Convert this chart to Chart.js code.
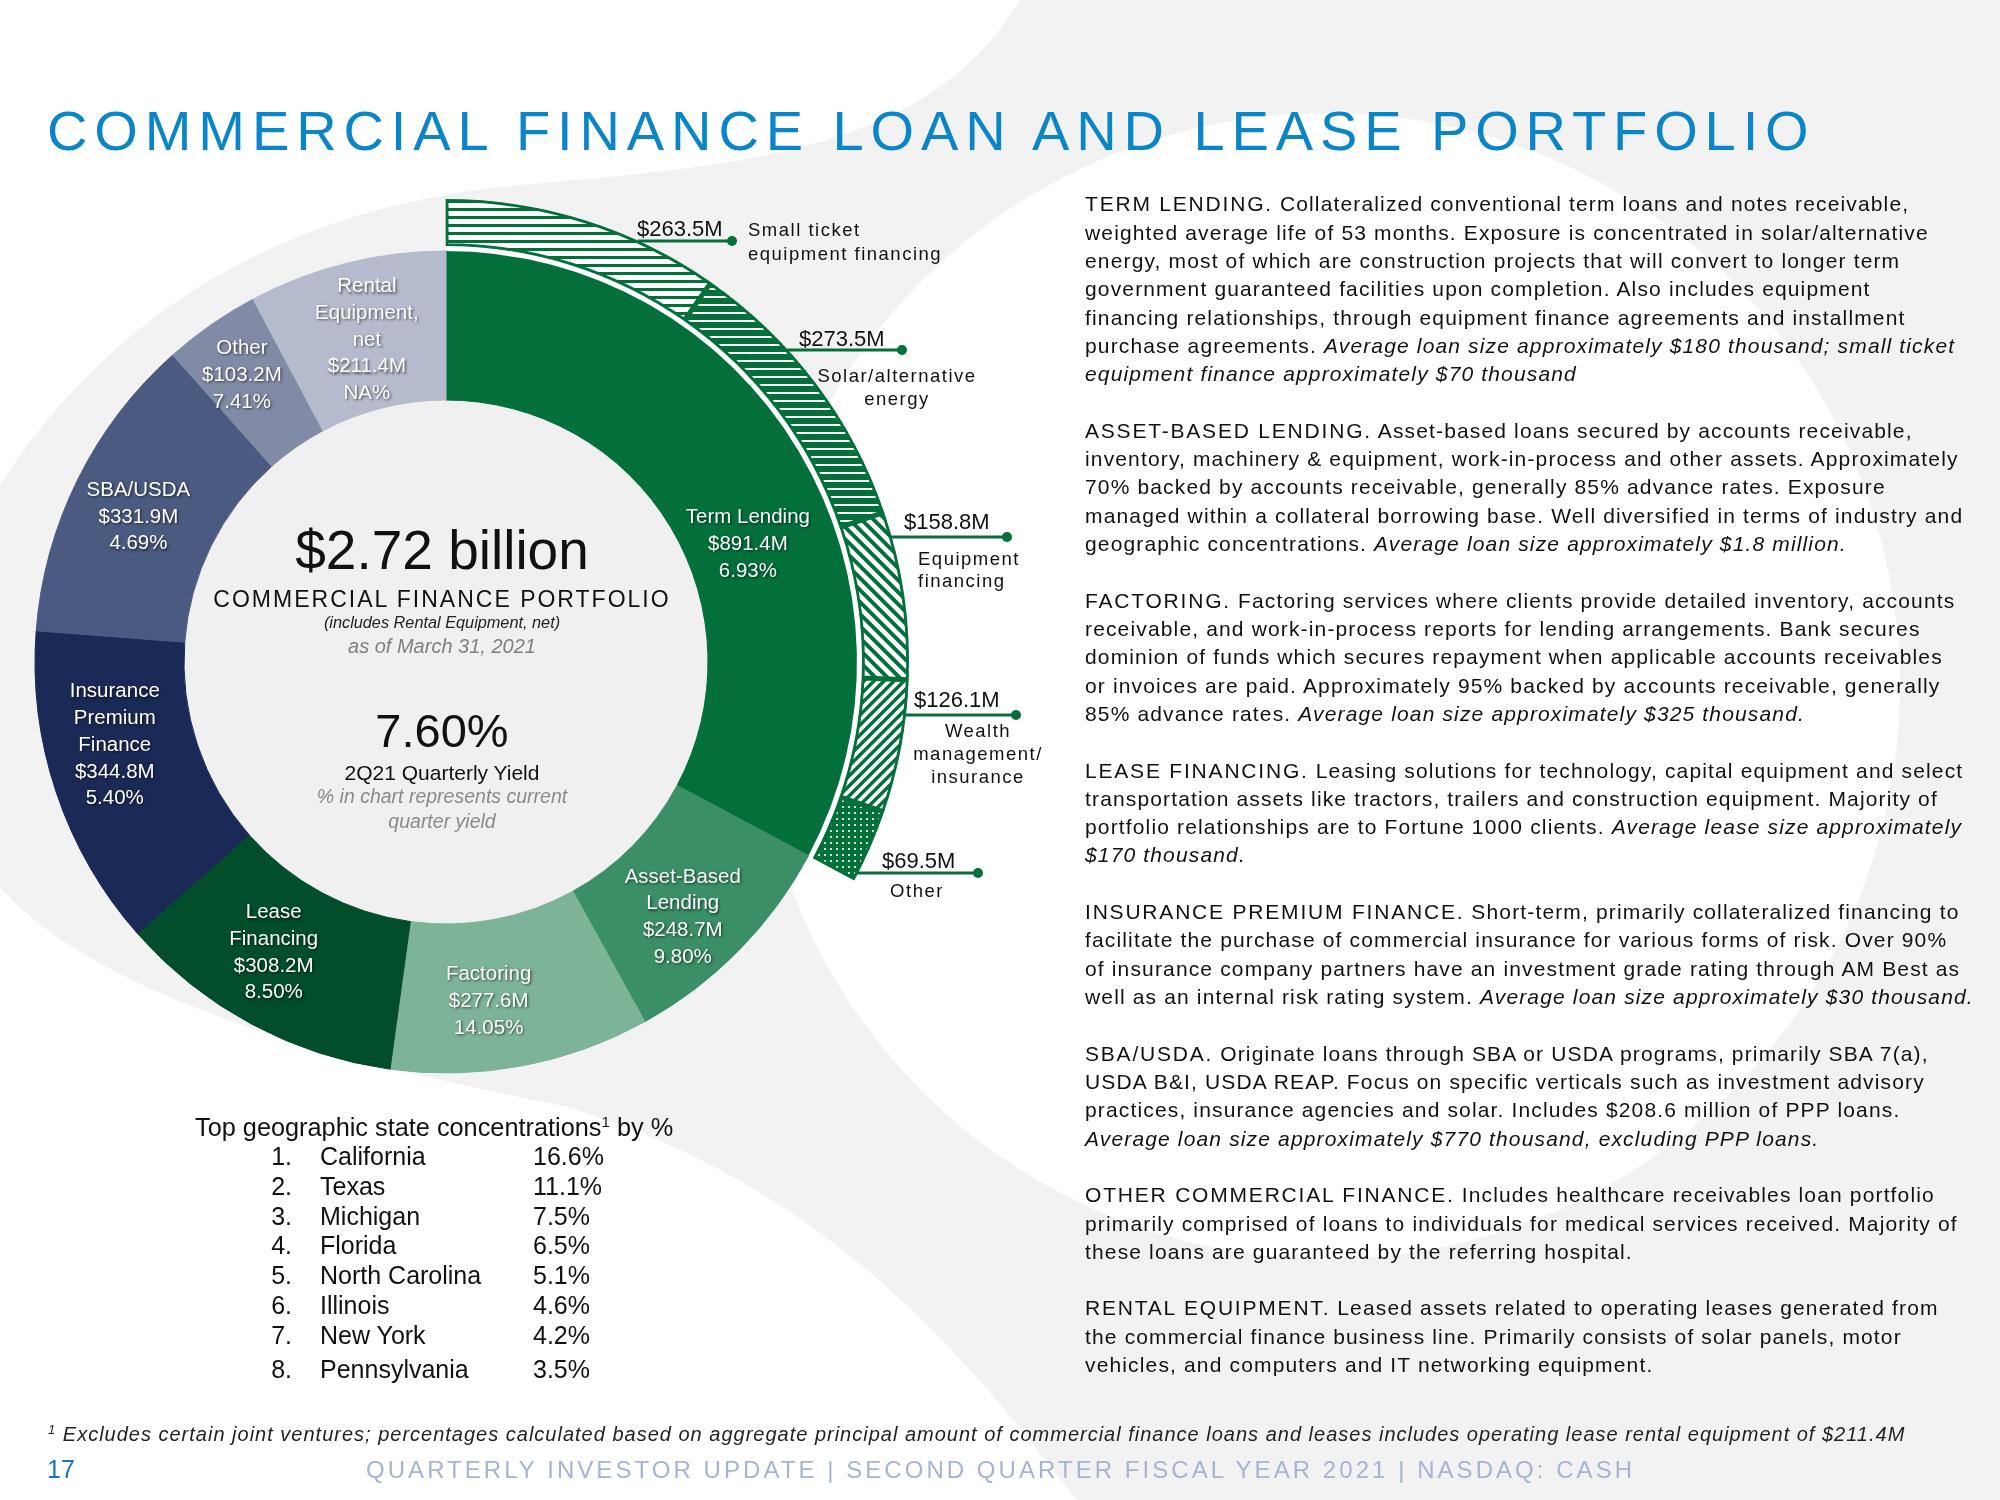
<!DOCTYPE html>
<html><head><meta charset="utf-8">
<script src="https://cdn.jsdelivr.net/npm/chart.js@4.4.0/dist/chart.umd.min.js"></script>
<style>
html,body{margin:0;padding:0;width:2000px;height:1500px;overflow:hidden;background:#fff;font-family:"Liberation Sans",Arial,sans-serif;}
#wrap{position:relative;width:2000px;height:1500px;}
#c{position:absolute;left:0;top:0;}
.t{position:absolute;white-space:nowrap;line-height:1;color:#111;}
.ctr{left:142px;width:600px;text-align:center;}
#right{position:absolute;left:1085px;top:190.3px;font-size:21px;line-height:28.32px;letter-spacing:1.15px;color:#111;white-space:nowrap;}
#right p{margin:0 0 28.32px 0;}
#right b{font-weight:normal;letter-spacing:1.8px;}
#right i{font-style:italic;}
</style></head><body>
<div id="wrap">
<canvas id="c" width="2000" height="1500"></canvas>

<div class="t" style="left:47px;top:102.6px;font-size:56px;letter-spacing:6.9px;word-spacing:0px;color:#0a86c8;">COMMERCIAL FINANCE LOAN AND LEASE PORTFOLIO</div>

<div class="t ctr" id="bigTotal" style="top:523.4px;font-size:55px;"></div>
<div class="t ctr" style="top:587.5px;font-size:23px;letter-spacing:2px;">COMMERCIAL FINANCE PORTFOLIO</div>
<div class="t ctr" style="top:614.2px;font-size:16.3px;font-style:italic;color:#222;">(includes Rental Equipment, net)</div>
<div class="t ctr" style="top:636.1px;font-size:20px;font-style:italic;color:#808080;">as of March 31, 2021</div>
<div class="t ctr" style="top:707.2px;font-size:47px;">7.60%</div>
<div class="t ctr" style="top:762.2px;font-size:21px;">2Q21 Quarterly Yield</div>
<div class="t ctr" style="top:786.5px;font-size:19.5px;font-style:italic;color:#8a8a8a;">% in chart represents current</div>
<div class="t ctr" style="top:811.5px;font-size:19.5px;font-style:italic;color:#8a8a8a;">quarter yield</div>

<div id="right">
<p><b>TERM LENDING.</b> Collateralized conventional term loans and notes receivable,<br>weighted average life of 53 months. Exposure is concentrated in solar/alternative<br>energy, most of which are construction projects that will convert to longer term<br>government guaranteed facilities upon completion. Also includes equipment<br>financing relationships, through equipment finance agreements and installment<br>purchase agreements. <i>Average loan size approximately $180 thousand; small ticket<br>equipment finance approximately $70 thousand</i></p>
<p><b>ASSET-BASED LENDING.</b> Asset-based loans secured by accounts receivable,<br>inventory, machinery &amp; equipment, work-in-process and other assets. Approximately<br>70% backed by accounts receivable, generally 85% advance rates. Exposure<br>managed within a collateral borrowing base. Well diversified in terms of industry and<br>geographic concentrations. <i>Average loan size approximately $1.8 million.</i></p>
<p><b>FACTORING.</b> Factoring services where clients provide detailed inventory, accounts<br>receivable, and work-in-process reports for lending arrangements. Bank secures<br>dominion of funds which secures repayment when applicable accounts receivables<br>or invoices are paid. Approximately 95% backed by accounts receivable, generally<br>85% advance rates. <i>Average loan size approximately $325 thousand.</i></p>
<p><b>LEASE FINANCING.</b> Leasing solutions for technology, capital equipment and select<br>transportation assets like tractors, trailers and construction equipment. Majority of<br>portfolio relationships are to Fortune 1000 clients. <i>Average lease size approximately<br>$170 thousand.</i></p>
<p><b>INSURANCE PREMIUM FINANCE.</b> Short-term, primarily collateralized financing to<br>facilitate the purchase of commercial insurance for various forms of risk. Over 90%<br>of insurance company partners have an investment grade rating through AM Best as<br>well as an internal risk rating system. <i>Average loan size approximately $30 thousand.</i></p>
<p><b>SBA/USDA.</b> Originate loans through SBA or USDA programs, primarily SBA 7(a),<br>USDA B&amp;I, USDA REAP. Focus on specific verticals such as investment advisory<br>practices, insurance agencies and solar. Includes $208.6 million of PPP loans.<br><i>Average loan size approximately $770 thousand, excluding PPP loans.</i></p>
<p><b>OTHER COMMERCIAL FINANCE.</b> Includes healthcare receivables loan portfolio<br>primarily comprised of loans to individuals for medical services received. Majority of<br>these loans are guaranteed by the referring hospital.</p>
<p><b>RENTAL EQUIPMENT.</b> Leased assets related to operating leases generated from<br>the commercial finance business line. Primarily consists of solar panels, motor<br>vehicles, and computers and IT networking equipment.</p>
</div>

<div class="t" style="left:195px;top:1113.8px;font-size:25.3px;">Top geographic state concentrations<span style="font-size:0.6em;vertical-align:0.6em;">1</span> by %</div>
<div id="stateList"></div>

<div class="t" style="left:48px;top:1423px;font-size:20px;font-style:italic;color:#222;letter-spacing:1.0px;"><span style="font-size:0.65em;vertical-align:0.5em;">1</span> Excludes certain joint ventures; percentages calculated based on aggregate principal amount of commercial finance loans and leases includes operating lease rental equipment of $211.4M</div>
<div class="t" style="left:47px;top:1456.8px;font-size:25px;color:#1b75bc;">17</div>
<div class="t" style="left:366px;top:1457.7px;font-size:24px;letter-spacing:3.05px;color:#a7b3d1;">QUARTERLY INVESTOR UPDATE | SECOND QUARTER FISCAL YEAR 2021 | NASDAQ: CASH</div>
</div>

<script>
// ---------------- DATA ----------------
const segmentNames = ['Term Lending','Asset-Based Lending','Factoring','Lease Financing','Insurance Premium Finance','SBA/USDA','Other','Rental Equipment, net'];
const segmentLabelLines = [['Term Lending'],['Asset-Based','Lending'],['Factoring'],['Lease','Financing'],['Insurance','Premium','Finance'],['SBA/USDA'],['Other'],['Rental','Equipment,','net']];
const segmentValues = [891.4, 248.7, 277.6, 308.2, 344.8, 331.9, 103.2, 211.4];
const segmentYields = ['6.93%','9.80%','14.05%','8.50%','5.40%','4.69%','7.41%','NA%'];

const termLendingParts = ['Small ticket equipment financing','Solar/alternative energy','Equipment financing','Wealth management/insurance','Other'];
const termLendingPartLines = [['Small ticket','equipment financing'],['Solar/alternative','energy'],['Equipment','financing'],['Wealth','management/','insurance'],['Other']];
const termLendingValues = [263.5, 273.5, 158.8, 126.1, 69.5];

const states = ['California','Texas','Michigan','Florida','North Carolina','Illinois','New York','Pennsylvania'];
const statePct = ['16.6%','11.1%','7.5%','6.5%','5.1%','4.6%','4.2%','3.5%'];

// ---------------- STYLE ----------------
const GREEN = '#03703c';
const SEG_COLORS = ['#03703c','#3b8f66','#7db396','#024d2a','#1b2956','#4b5a80','#828ba6','#b5bacc'];
const LABEL_NUDGE = [[9.65,324],[2.55,348],[3.4,342],[2.4,338],[4.4,341.5],[-1.1,340],[-0.6,352],[0.2,331.5]];
const RING_ANN = [
  {lineY:241, dotX:732, valX:637, valY:236, nameX:748, align:'left', nameY:[236,260]},
  {lineY:350, dotX:902, valX:799, valY:345.5, nameX:897, align:'center', nameY:[382,405]},
  {lineY:537, dotX:1007, valX:904, valY:529, nameX:918, align:'left', nameY:[565,587]},
  {lineY:715, dotX:1016, valX:914, valY:707, nameX:978, align:'center', nameY:[737,760,783]},
  {lineY:873, dotX:978, valX:882, valY:868, nameX:917, align:'center', nameY:[897]}
];
const FONT = '"Liberation Sans", Arial, sans-serif';
const fmtM = v => '$' + v.toFixed(1) + 'M';

// center total from data
const total = segmentValues.reduce((a,b)=>a+b,0);
document.getElementById('bigTotal').textContent = '$' + (total/1000).toFixed(2) + ' billion';

// state list
(function(){
  const box = document.getElementById('stateList');
  states.forEach((s,i)=>{
    const base = 1165 + i*29.85 + (i===7?4:0);
    const top = base - 21.2;
    box.insertAdjacentHTML('beforeend',
      `<div class="t" style="left:250px;width:42px;text-align:right;top:${top}px;font-size:25px;">${i+1}.</div>`+
      `<div class="t" style="left:320px;top:${top}px;font-size:25px;">${s}</div>`+
      `<div class="t" style="left:533px;top:${top}px;font-size:25px;">${statePct[i]}</div>`);
  });
})();

// ---------------- PATTERNS ----------------
function mkPattern(w,h,draw){const cv=document.createElement('canvas');cv.width=w;cv.height=h;const g=cv.getContext('2d');draw(g,w,h);return g.createPattern(cv,'repeat');}
const pSmall = mkPattern(8,8,g=>{g.fillStyle='#fff';g.fillRect(0,0,8,8);g.fillStyle=GREEN;g.fillRect(0,0,8,3);});
const pSolar = mkPattern(8,8,g=>{g.fillStyle=GREEN;g.fillRect(0,0,8,8);g.fillStyle='#fff';g.fillRect(0,0,8,2);});
const pEquip = mkPattern(12,12,g=>{g.fillStyle=GREEN;g.fillRect(0,0,12,12);g.strokeStyle='#fff';g.lineWidth=4.5;g.beginPath();
  g.moveTo(-6,-6);g.lineTo(18,18);g.moveTo(-18,-6);g.lineTo(6,18);g.moveTo(6,-6);g.lineTo(30,18);g.stroke();});
const pWealth = mkPattern(10,10,g=>{g.fillStyle=GREEN;g.fillRect(0,0,10,10);g.strokeStyle='#fff';g.lineWidth=3.6;g.beginPath();
  g.moveTo(-5,15);g.lineTo(15,-5);g.moveTo(-5,5);g.lineTo(5,-5);g.moveTo(5,15);g.lineTo(15,5);g.stroke();});
const pDots = mkPattern(6,6,g=>{g.fillStyle=GREEN;g.fillRect(0,0,6,6);g.fillStyle='#fff';g.beginPath();g.arc(3,3,1.1,0,Math.PI*2);g.fill();});

// ---------------- PLUGINS ----------------
const bgPlugin = {
  id:'bg',
  beforeDraw(chart){
    const c = chart.ctx; c.save();
    c.fillStyle='#fff'; c.fillRect(0,0,chart.width,chart.height);
    c.fillStyle='#f2f2f2';
    c.beginPath();
    c.moveTo(1020,0); c.lineTo(2000,0); c.lineTo(2000,1500); c.lineTo(1078,1500);
    c.bezierCurveTo(1010,1420, 860,1190, 560,1105);
    c.bezierCurveTo(330,1060, 60,990, -20,860);
    c.bezierCurveTo(-70,760, -60,580, 0,485);
    c.bezierCurveTo(120,300, 300,205, 520,185);
    c.bezierCurveTo(750,165, 930,150, 1020,0);
    c.closePath(); c.fill();
    c.fillStyle='#fff';
    c.beginPath(); c.arc(1327,686,573,0,Math.PI*2); c.fill();
    c.restore();
  }
};
const discPlugin = {
  id:'disc',
  beforeDatasetsDraw(chart){
    const a = chart.getDatasetMeta(2).data[0]; const c = chart.ctx;
    c.save(); c.fillStyle='#f0f0f0'; c.beginPath(); c.arc(a.x,a.y,a.innerRadius,0,Math.PI*2); c.fill(); c.restore();
  }
};
const labelPlugin = {
  id:'labels',
  afterDatasetsDraw(chart){
    const c = chart.ctx;
    const main = chart.getDatasetMeta(2);
    main.data.forEach((arc,i)=>{
      const mid = (arc.startAngle+arc.endAngle)/2 + LABEL_NUDGE[i][0]*Math.PI/180;
      const r = LABEL_NUDGE[i][1];
      const lx = arc.x + r*Math.cos(mid), ly = arc.y + r*Math.sin(mid);
      const lines = segmentLabelLines[i].concat([fmtM(segmentValues[i]), segmentYields[i]]);
      c.save();
      c.font = '20.5px ' + FONT; c.textAlign='center'; c.textBaseline='middle';
      c.fillStyle='#fff'; c.shadowColor='rgba(0,0,0,0.6)'; c.shadowBlur=2.5; c.shadowOffsetX=1.2; c.shadowOffsetY=1.2;
      const lh = 26.7, y0 = ly - (lines.length-1)*lh/2;
      lines.forEach((t,k)=>c.fillText(t, lx, y0+k*lh));
      c.restore();
    });
    const ring = chart.getDatasetMeta(0);
    const R = ring.data[0].outerRadius, cx = ring.data[0].x, cy = ring.data[0].y;
    termLendingValues.forEach((v,i)=>{
      const a = RING_ANN[i];
      const dy = a.lineY - cy;
      const x0 = cx + Math.sqrt(Math.max(R*R - dy*dy,0)) - 1;
      c.save();
      c.strokeStyle = GREEN; c.lineWidth = 3;
      c.beginPath(); c.moveTo(x0, a.lineY); c.lineTo(a.dotX, a.lineY); c.stroke();
      c.fillStyle = GREEN; c.beginPath(); c.arc(a.dotX, a.lineY, 5, 0, Math.PI*2); c.fill();
      c.fillStyle = '#111'; c.font = '22px ' + FONT; c.textAlign='left'; c.textBaseline='alphabetic';
      c.fillText(fmtM(v), a.valX, a.valY);
      c.font = '18.5px ' + FONT; c.letterSpacing = '1.5px'; c.textAlign = a.align;
      termLendingPartLines[i].forEach((t,k)=>c.fillText(t, a.nameX, a.nameY[k]));
      c.restore();
    });
  }
};

// ---------------- CHART ----------------
const restOfPortfolio = total - segmentValues[0];
new Chart(document.getElementById('c'), {
  type:'doughnut',
  data:{
    labels: segmentNames,
    datasets:[
      {label:'Term Lending detail', data: termLendingValues.concat([restOfPortfolio]),
       backgroundColor:[pSmall,pSolar,pEquip,pWealth,pDots,'rgba(0,0,0,0)'],
       borderColor:GREEN, borderWidth:[2.5,2.5,2.5,2.5,2.5,0], borderAlign:'inner', weight:47},
      {label:'gap', data:[segmentValues[0], restOfPortfolio],
       backgroundColor:['#ffffff','rgba(0,0,0,0)'], borderWidth:0, weight:5},
      {label:'Portfolio', data: segmentValues, backgroundColor: SEG_COLORS,
       borderColor: SEG_COLORS, borderWidth:1, weight:149}
    ]
  },
  options:{
    responsive:false, animation:false, events:[],
    radius:463, cutout:'56.59%',
    layout:{padding:{left:0,top:0,right:1108,bottom:176}},
    plugins:{legend:{display:false}, tooltip:{enabled:false}}
  },
  plugins:[bgPlugin, discPlugin, labelPlugin]
});
</script>
</body></html>
